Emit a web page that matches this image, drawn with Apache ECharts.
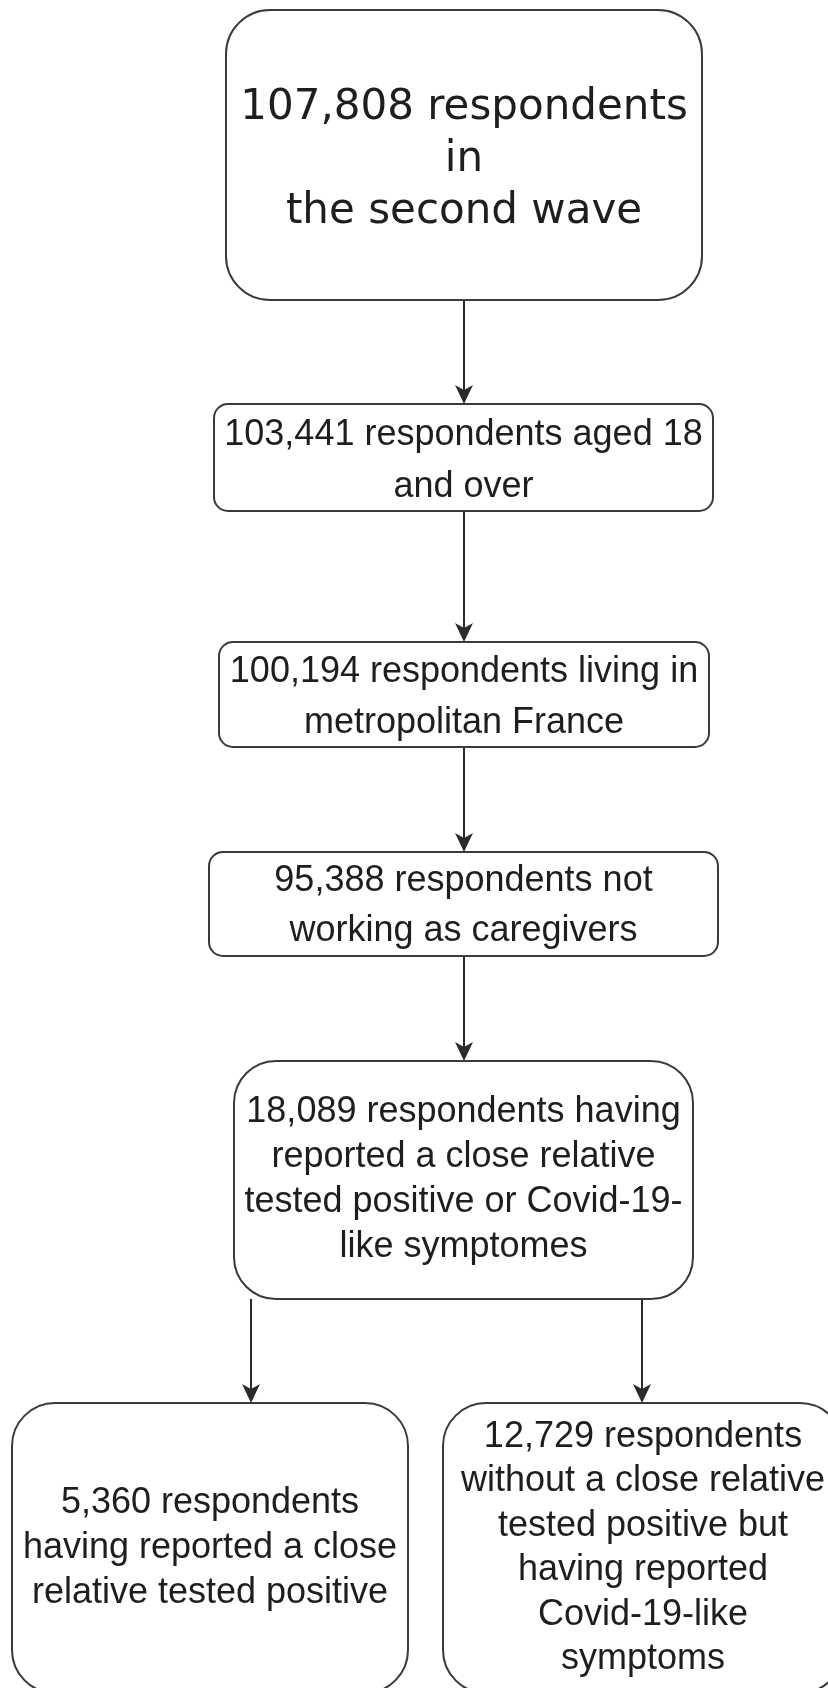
<!DOCTYPE html>
<html>
<head>
<meta charset="utf-8">
<title>Flow of respondents</title>
<script src="https://cdn.jsdelivr.net/npm/echarts@6/dist/echarts.min.js"></script>
<style>
  html, body { margin: 0; padding: 0; background: #fff; }
  #chart { width: 828px; height: 1688px; }
</style>
</head>
<body>
<div id="chart"></div>
<script>
// 数据：每个方框的人数、说明文字、父节点
const counts = [107808, 103441, 100194, 95388, 18089, 5360, 12729]
const descriptions = [
  'respondents\nin\nthe second wave',
  'respondents aged 18\nand over',
  'respondents living in\nmetropolitan France',
  'respondents not\nworking as caregivers',
  'respondents having\nreported a close relative\ntested positive or Covid-19-\nlike symptomes',
  'respondents\nhaving reported a close\nrelative tested positive',
  'respondents\nwithout a close relative\ntested positive but\nhaving reported\nCovid-19-like\nsymptoms'
]
const parents = [null, 0, 1, 2, 3, 4, 4]

// 版面：方框 [x0, y0, x1, y1, 圆角, 文字下移]，单位与坐标轴一致
const boxLayout = [
  [226, 10, 702, 300, 44, 5],
  [214, 404, 713, 511, 14, 4],
  [219, 642, 709, 747, 14, 3],
  [209, 852, 718, 956, 14, 2],
  [234, 1061, 693, 1299, 42, 0],
  [12, 1403, 408, 1693, 43, 0],
  [443, 1403, 843, 1693, 43, 0]
]
// 箭头所在的 x
const linkX = [null, 464, 464, 464, 464, 251, 642]
// 字体
const boxFont = [
  { family: 'DejaVu Sans', size: 42, lineHeight: 52 },
  { family: 'Liberation Sans', size: 36, lineHeight: 52 },
  { family: 'Liberation Sans', size: 36, lineHeight: 51 },
  { family: 'Liberation Sans', size: 36, lineHeight: 50 },
  { family: 'Liberation Sans', size: 36, lineHeight: 45 },
  { family: 'Liberation Sans', size: 36, lineHeight: 45 },
  { family: 'Liberation Sans', size: 36, lineHeight: 44.5 }
]

const LINE_COLOR = '#2b2b2b'
const TEXT_COLOR = '#1e1e1e'

function boxText(i) {
  return counts[i].toLocaleString('en-US') + ' ' + descriptions[i]
}

function renderBox(params, api) {
  const i = api.value(0)
  const b = boxLayout[i]
  const p0 = api.coord([b[0], b[1]])
  const p1 = api.coord([b[2], b[3]])
  const f = boxFont[i]
  return {
    type: 'group',
    children: [
      {
        type: 'rect',
        shape: { x: p0[0], y: p0[1], width: p1[0] - p0[0], height: p1[1] - p0[1], r: b[4] },
        style: { fill: '#fff', stroke: '#3a3a3a', lineWidth: 2 }
      },
      {
        type: 'text',
        style: {
          text: boxText(i),
          x: (p0[0] + p1[0]) / 2,
          y: (p0[1] + p1[1]) / 2 + b[5],
          align: 'center',
          verticalAlign: 'middle',
          fontFamily: f.family,
          fontSize: f.size,
          lineHeight: f.lineHeight,
          fill: TEXT_COLOR
        }
      }
    ]
  }
}

function renderLink(params, api) {
  const child = api.value(0)
  const parent = parents[child]
  const x = linkX[child]
  const from = api.coord([x, boxLayout[parent][3]])
  const to = api.coord([x, boxLayout[child][1]])
  const len = 19, half = 9, notch = 14
  return {
    type: 'group',
    children: [
      {
        type: 'line',
        shape: { x1: from[0], y1: from[1], x2: to[0], y2: to[1] - notch },
        style: { stroke: LINE_COLOR, lineWidth: 2 }
      },
      {
        type: 'polygon',
        shape: {
          points: [
            [to[0], to[1]],
            [to[0] - half, to[1] - len],
            [to[0], to[1] - notch],
            [to[0] + half, to[1] - len]
          ]
        },
        style: { fill: LINE_COLOR }
      }
    ]
  }
}

const linkData = parents
  .map((p, i) => (p === null ? null : [i]))
  .filter(d => d !== null)

const chart = echarts.init(document.getElementById('chart'), null, { renderer: 'canvas' })

chart.setOption({
  animation: false,
  backgroundColor: '#fff',
  grid: { left: 0, right: 0, top: 0, bottom: 0 },
  xAxis: { type: 'value', min: 0, max: 828, show: false },
  yAxis: { type: 'value', min: 0, max: 1688, inverse: true, show: false },
  series: [
    {
      type: 'custom',
      renderItem: renderLink,
      data: linkData,
      encode: { x: [], y: [] },
      silent: true
    },
    {
      type: 'custom',
      renderItem: renderBox,
      data: counts.map((c, i) => [i, c]),
      encode: { x: [], y: [] },
      silent: true
    }
  ]
})

window.addEventListener('resize', () => chart.resize())
</script>
</body>
</html>
